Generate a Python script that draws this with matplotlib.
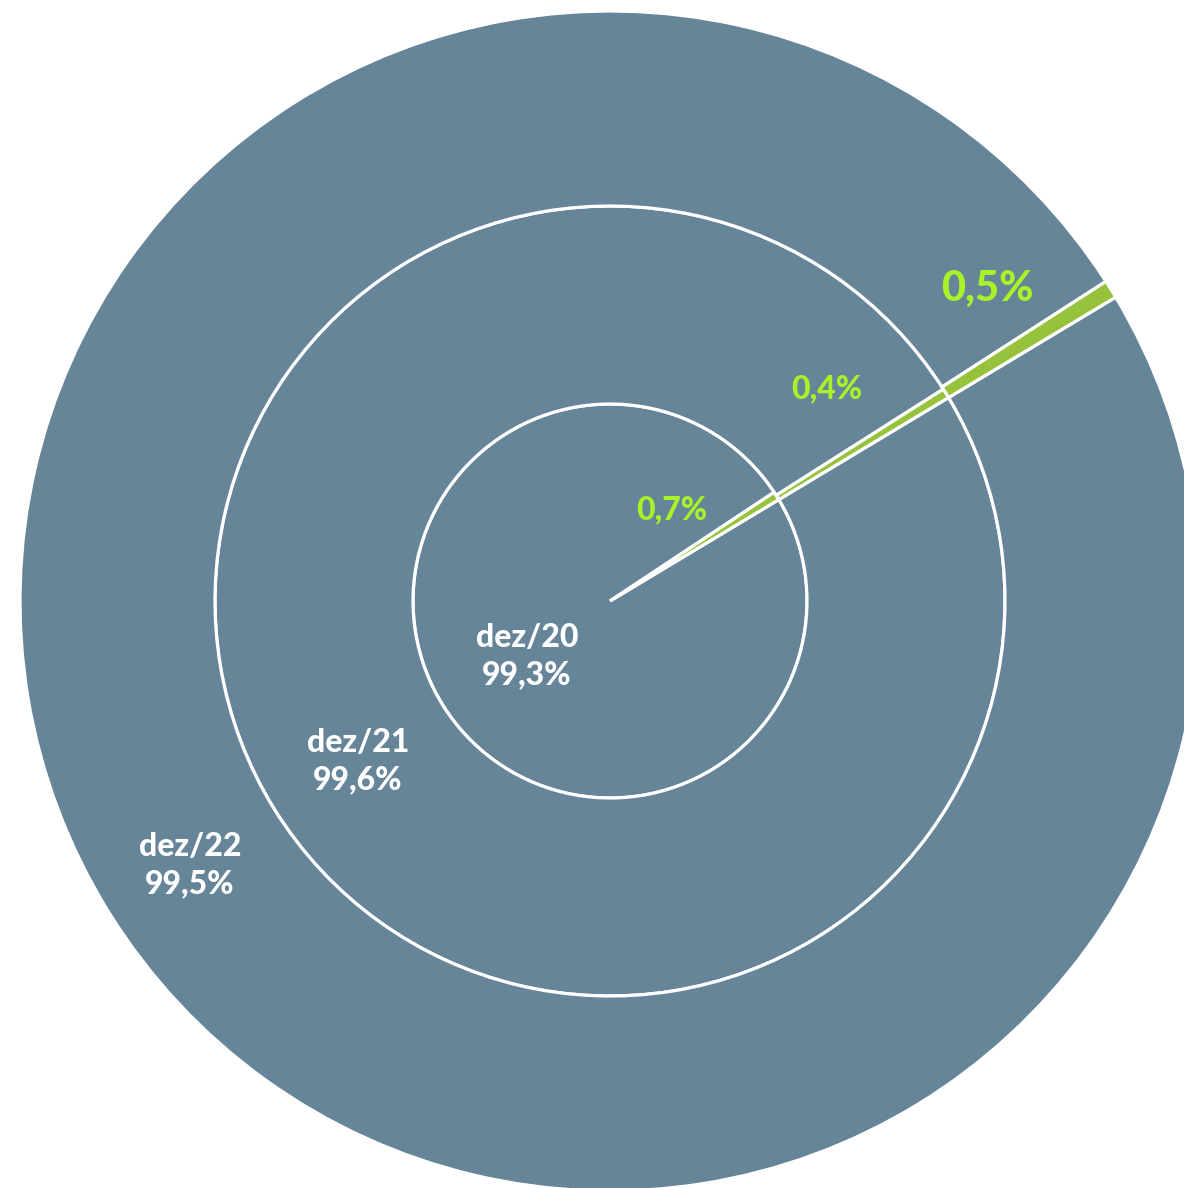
import matplotlib.pyplot as plt
import numpy as np

# shares per year, outer ring = most recent
years = ['dez/20', 'dez/21', 'dez/22']
gray_share = [99.3, 99.6, 99.5]
green_share = [0.7, 0.4, 0.5]

gray = '#678599'
green = '#96C23C'
label_green = '#A8F22A'

W, H = 1184, 1188
cx, cy = 610, 601  # centre of the rings in pixels (from top-left)

fig = plt.figure(figsize=(W / 100, H / 100), dpi=100)
ax = fig.add_axes([0, 0, 1, 1])

radii = [197, 395, 590]
for i in range(3):
    r = radii[i]
    w = r - (radii[i - 1] if i > 0 else 0)
    ax.pie([gray_share[i], green_share[i]], radius=r, startangle=31,
           counterclock=False, colors=[gray, green],
           wedgeprops=dict(width=w, edgecolor='white', linewidth=2.3))

ax.set_xlim(-cx, W - cx)
ax.set_ylim(-(H - cy), cy)
ax.set_aspect('equal')
ax.axis('off')


def px(x, y):
    return x - cx, cy - y


font = 'Lato'
# year labels (white)
pos_white = [(527, 656), (358, 761), (190, 865)]
for i in range(3):
    x, y = px(*pos_white[i])
    ax.text(x, y, f"{years[i]}\n{gray_share[i]:.1f}%".replace('.', ','),
            color='white', fontsize=23, fontweight='black', family=font,
            ha='center', va='center', linespacing=1.35)

# green labels
pos_green = [(672, 510, 23), (827, 389, 23), (987, 289, 30)]
for i in range(3):
    x, y = px(pos_green[i][0], pos_green[i][1])
    ax.text(x, y, f"{green_share[i]:.1f}%".replace('.', ','),
            color=label_green, fontsize=pos_green[i][2], fontweight='black',
            family=font, ha='center', va='center')

fig.savefig('out.png', dpi=100)
